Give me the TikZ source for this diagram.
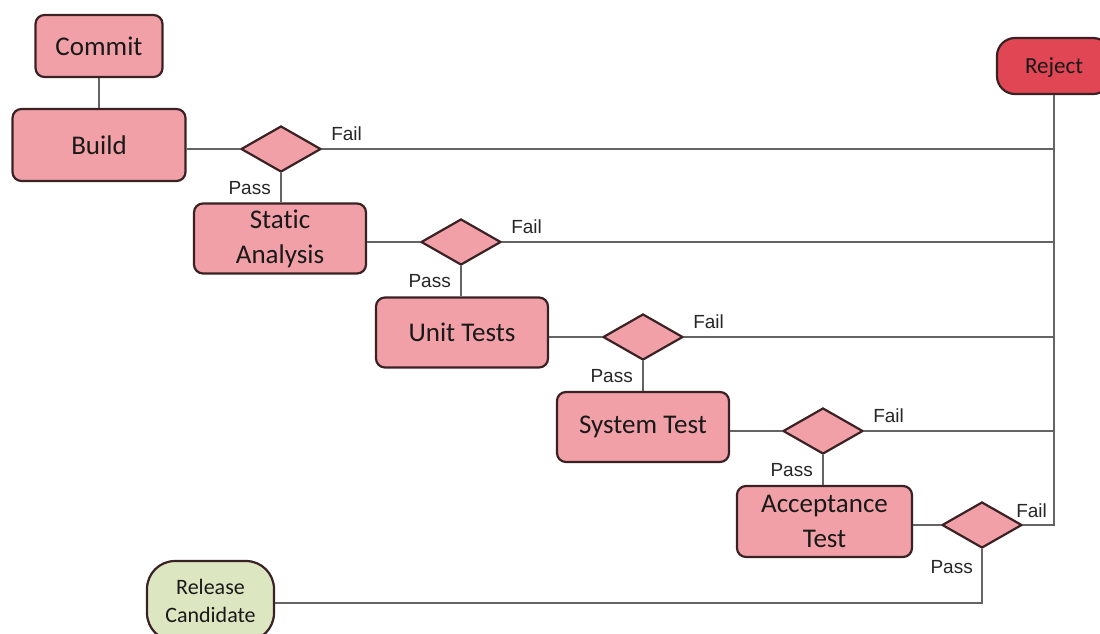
\documentclass[tikz,border=0pt]{standalone}
\usepackage{fontspec}
\setmainfont{Carlito}[Ligatures=NoCommon]
\newfontfamily\flagfont{Liberation Sans}
\usepackage{xcolor}
\usetikzlibrary{positioning,shapes.geometric}

\definecolor{stagepink}{RGB}{241,160,168}
\definecolor{stageedge}{RGB}{58,34,36}
\definecolor{rejectred}{RGB}{224,70,84}
\definecolor{releasegreen}{RGB}{220,231,194}
\definecolor{linkgray}{RGB}{100,100,100}

\tikzset{
  stage/.style={draw=stageedge, fill=stagepink, line width=2.2pt, rounded corners=9pt,
    minimum width=172pt, minimum height=70pt, align=center, text=black!90,
    font=\fontsize{27}{35}\selectfont},
  gate/.style={diamond, draw=stageedge, fill=stagepink, line width=2.2pt,
    minimum width=80pt, minimum height=46pt, inner sep=0pt},
  link/.style={draw=linkgray, line width=2pt},
  flag/.style={font=\flagfont\fontsize{19}{22}\selectfont, text=black!85, inner sep=0pt},
}

\begin{document}
\begin{tikzpicture}[x=1pt,y=-1pt]
\useasboundingbox (0,0) rectangle (1100,633);

\node(commit) [stage, minimum width=127pt, minimum height=62pt] at (99,46)   {Commit};
\node(build)  [stage, minimum width=173pt, minimum height=72pt] at (99,145)  {Build};
\node(static) [stage]                                         at (280,238.5) {Static\\Analysis};
\node(unit)   [stage]                                         at (462,332.5) {Unit Tests};
\node(system) [stage]                                         at (643,427)   {System Test};
\node(accept) [stage, minimum width=175pt, minimum height=71pt] at (824.5,521.5) {Acceptance\\Test};

\node(g1) [gate] at (281,149) {};
\node(g2) [gate] at (461,242) {};
\node(g3) [gate] at (643,337) {};
\node(g4) [gate] at (823,431) {};
\node(g5) [gate] at (982,525) {};

\node(reject)  [stage, fill=rejectred, minimum width=114pt, minimum height=56pt, text depth=0pt,
  rounded corners=18pt, font=\fontsize{23}{28}\selectfont] at (1054,66) {Reject};
\node(release) [stage, fill=releasegreen, minimum width=127pt, minimum height=80pt,
  rounded corners=28pt, font=\fontsize{22}{28}\selectfont] at (210.5,601) {Release\\Candidate};

\draw[link] (commit) -- (commit |- build.north);

\foreach \b/\g in {build/g1, static/g2, unit/g3, system/g4, accept/g5} {
\draw[link] (\g.west) -- (\g.west -| \b.east);
}
\foreach \g/\s in {g1/static, g2/unit, g3/system, g4/accept} {
\draw[link] (\g.south) -- (\g.south |- \s.north);
\draw[link] (\g.east) -- (\g.east -| reject.south);
\node[flag, anchor=west, xshift=9pt, yshift=15pt] at (\g.east) {Fail};
\node[flag, anchor=east, xshift=-10pt, yshift=-15pt] at (\g.south) {Pass};
}

\draw[link] (reject.south) |- (g5.east);
\draw[link] (g5.south) |- ([yshift=-2pt]release.east);
\node(fail5) [flag, anchor=west, xshift=-7pt, yshift=14pt] at (g5.east) {Fail};
\node(pass5) [flag, anchor=east, xshift=-9pt, yshift=-18pt] at (g5.south) {Pass};
\end{tikzpicture}
\end{document}
